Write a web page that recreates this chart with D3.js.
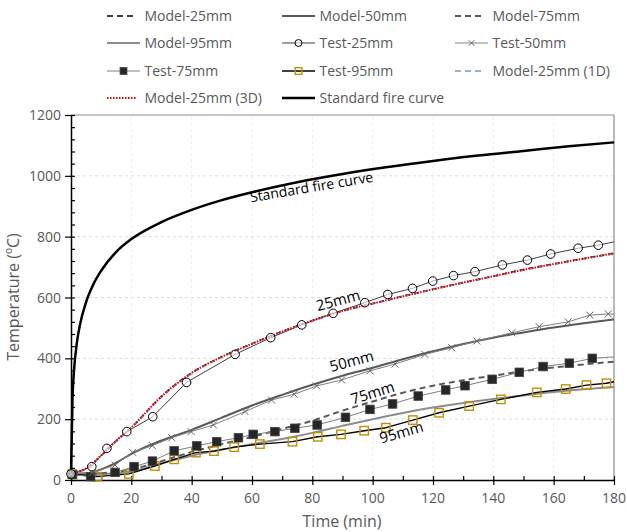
<!DOCTYPE html>
<html>
<head>
<meta charset="utf-8">
<script src="https://cdn.jsdelivr.net/npm/d3@7"></script>
<style>
  body { margin: 0; background: #fff; }
  svg { display: block; font-family: "Open Sans", sans-serif; }
</style>
</head>
<body>
<svg id="chart" width="627" height="532"></svg>
<script>
// ---- data ----
const fireTime = [0, 0.5, 1, 2, 3, 5, 7.5, 10, 15, 20, 30, 40, 50, 60, 75, 90, 105, 120, 135, 150, 165, 180];
const fireTemp = [20, 270, 360, 455, 512, 585, 645, 688, 750, 792, 848, 888, 920, 946, 979, 1006, 1029, 1049, 1067, 1082, 1097, 1110];

const modelTime = [0, 5, 10, 15, 20, 30, 40, 50, 60, 70, 80, 90, 100, 110, 120, 130, 140, 150, 160, 170, 180];
const model25 = [20, 38, 80, 128, 172, 275, 352, 405, 448, 488, 524, 556, 580, 604, 627, 649, 670, 692, 710, 728, 745];
const model25_1D = [20, 37, 79, 127, 171, 273, 350, 404, 447, 487, 523, 555, 579, 603, 626, 648, 669, 690, 709, 727, 744];
const model25_3D = [20, 38, 81, 129, 173, 275, 352, 405, 448, 488, 524, 556, 580, 604, 627, 649, 670, 691, 710, 728, 745];
const model50 = [20, 22, 35, 57, 86, 130, 165, 205, 245, 280, 313, 343, 369, 397, 423, 447, 468, 485, 501, 515, 528];
const model75 = [20, 20, 22, 27, 35, 62, 92, 118, 142, 168, 195, 228, 258, 287, 310, 328, 343, 358, 370, 380, 389];
const model95 = [20, 20, 20, 22, 28, 55, 80, 100, 118, 135, 155, 178, 200, 220, 238, 253, 266, 278, 289, 298, 306];

const test25Time = [0, 6.9, 11.9, 18.5, 27.1, 38.3, 54.4, 66.2, 76.5, 86.9, 97.4, 105, 113.2, 119.9, 126.8, 133.9, 143, 151.3, 159, 168.1, 174.8, 180];
const test25 = [20, 44, 104, 159, 208, 321, 413, 468, 510, 548, 583, 610, 630, 654, 672, 685, 707, 723, 743, 762, 772, 783];
const test50Time = [0, 7, 14.6, 20.4, 27, 33.4, 39.8, 47.2, 57.7, 66.5, 74, 81.4, 89.7, 99.1, 107.4, 117.3, 126.2, 134.5, 146.1, 155.2, 164.8, 172, 178.1, 180];
const test50 = [20, 24, 49, 91, 113, 139, 159, 181, 225, 263, 282, 309, 329, 359, 381, 413, 435, 457, 484, 504, 520, 542, 546, 545];
const test75Time = [0.5, 6.5, 14.6, 20.9, 27, 34.2, 41.7, 48.3, 55.5, 60.4, 67.6, 74.2, 81.6, 91, 99.1, 106.6, 115.1, 124.2, 130.6, 139.6, 148.6, 156.5, 165.2, 172.8, 180];
const test75 = [18, 11, 25, 44, 62, 96, 112, 126, 139, 150, 159, 170, 181, 206, 232, 250, 276, 296, 310, 331, 354, 373, 384, 400, 405];
const test95Time = [0.4, 8.7, 19.2, 27.8, 34.2, 41.4, 47.4, 54.1, 62.6, 73.4, 81.8, 89.5, 97.2, 104.4, 113.3, 122, 132, 142.5, 154.4, 164, 170.9, 177.5, 180];
const test95 = [19, 11, 20, 46, 68, 90, 95, 108, 118, 126, 142, 150, 162, 172, 197, 221, 243, 265, 288, 299, 312, 318, 323];

const xTicks = [0, 20, 40, 60, 80, 100, 120, 140, 160, 180];
const yTicks = [0, 200, 400, 600, 800, 1000, 1200];

const legendNames = ["Model-25mm", "Model-50mm", "Model-75mm", "Model-95mm", "Test-25mm", "Test-50mm",
  "Test-75mm", "Test-95mm", "Model-25mm (1D)", "Model-25mm (3D)", "Standard fire curve"];

// ---- styles ----
const styles = {
  "Model-25mm": { stroke: "#000", width: 1.6, dash: "5,4" },
  "Model-50mm": { stroke: "#595959", width: 2 },
  "Model-75mm": { stroke: "#595959", width: 2, dash: "6,4" },
  "Model-95mm": { stroke: "#8c8c8c", width: 2 },
  "Test-25mm": { stroke: "#404040", width: 1, marker: "circle" },
  "Test-50mm": { stroke: "#808080", width: 1, marker: "cross" },
  "Test-75mm": { stroke: "#808080", width: 1, marker: "square" },
  "Test-95mm": { stroke: "#000", width: 1.4, marker: "osquare" },
  "Model-25mm (1D)": { stroke: "#8497b0", width: 1.6, dash: "5,4" },
  "Model-25mm (3D)": { stroke: "#e00000", width: 2, dash: "1.5,1.5" },
  "Standard fire curve": { stroke: "#000", width: 2.5 }
};

const svg = d3.select("#chart");
const x = d3.scaleLinear().domain([0, 180]).range([71, 614]);
const y = d3.scaleLinear().domain([0, 1200]).range([480, 115]);
const textGray = "#595959";

// gridlines
svg.append("g").selectAll("line").data(yTicks.filter(d => d > 0 && d < 1200)).join("line")
  .attr("x1", x(0)).attr("x2", x(180)).attr("y1", d => y(d)).attr("y2", d => y(d))
  .attr("stroke", "#dcdcdc").attr("stroke-dasharray", "3,3");
svg.append("g").selectAll("line").data(xTicks.filter(d => d > 0 && d < 180)).join("line")
  .attr("x1", d => x(d)).attr("x2", d => x(d)).attr("y1", y(0)).attr("y2", y(1200))
  .attr("stroke", "#ececec").attr("stroke-dasharray", "3,3");

// frame top/right
svg.append("path").attr("d", `M${x(0)},${y(1200)}H${x(180)}V${y(0)}`)
  .attr("fill", "none").attr("stroke", "#8c8c8c").attr("stroke-width", 1.2);

// axes
const xAxis = svg.append("g").attr("transform", `translate(0,${y(0)})`)
  .call(d3.axisBottom(x).tickValues(d3.range(0, 181, 10)).tickSize(4).tickSizeOuter(0).tickFormat(""));
xAxis.selectAll(".tick line").attr("y1", -4).attr("y2", d => d % 20 === 0 ? 5 : 0);
const yAxis = svg.append("g").attr("transform", `translate(${x(0)},0)`)
  .call(d3.axisLeft(y).tickValues(d3.range(0, 1201, 40)).tickSize(4).tickSizeOuter(0).tickFormat(""));
yAxis.selectAll(".tick line").attr("x1", 4).attr("x2", d => d % 200 === 0 ? -6 : 0);
svg.selectAll(".domain").attr("stroke", "#000").attr("stroke-width", 1.5);
svg.selectAll(".tick line").attr("stroke", "#000").attr("stroke-width", 1.2);

svg.append("g").selectAll("text").data(xTicks).join("text")
  .attr("x", d => x(d)).attr("y", 503).attr("text-anchor", "middle")
  .attr("font-size", 14).attr("fill", textGray).text(d => d);
svg.append("g").selectAll("text").data(yTicks).join("text")
  .attr("x", 61).attr("y", d => y(d) + 5).attr("text-anchor", "end")
  .attr("font-size", 14).attr("fill", textGray).text(d => d);

svg.append("text").attr("x", 342).attr("y", 527).attr("text-anchor", "middle")
  .attr("font-size", 16).attr("fill", textGray).text("Time (min)");
const yt = svg.append("text").attr("transform", "translate(19,297) rotate(-90)")
  .attr("text-anchor", "middle").attr("font-size", 16).attr("fill", textGray);
yt.append("tspan").text("Temperature (");
yt.append("tspan").attr("font-size", 10).attr("baseline-shift", "super").text("o");
yt.append("tspan").text("C)");

// ---- series ----
const smooth = d3.line().x(d => x(d[0])).y(d => y(d[1])).curve(d3.curveMonotoneX);
const straight = d3.line().x(d => x(d[0])).y(d => y(d[1]));
const zip = (a, b) => a.map((t, i) => [t, b[i]]);

const plot = svg.append("g");
function drawLine(name, pts, gen) {
  const s = styles[name];
  plot.append("path").attr("d", gen(pts)).attr("fill", "none")
    .attr("stroke", s.stroke).attr("stroke-width", s.width)
    .attr("stroke-dasharray", s.dash || null).attr("stroke-linejoin", "round");
}
function drawMarker(g, type, cx, cy, big) {
  const k = big ? 1 : 0.8;
  if (type === "circle") {
    g.append("circle").attr("cx", cx).attr("cy", cy).attr("r", 4.3 * k)
      .attr("fill", "#fff").attr("fill-opacity", 0.6).attr("stroke", "#000").attr("stroke-width", 1);
  } else if (type === "cross") {
    const r = 3.5 * k;
    g.append("path").attr("d", `M${cx - r},${cy - r}L${cx + r},${cy + r}M${cx - r},${cy + r}L${cx + r},${cy - r}`)
      .attr("stroke", "#666").attr("stroke-width", 1);
  } else if (type === "square") {
    const r = 4.3 * k;
    g.append("rect").attr("x", cx - r).attr("y", cy - r).attr("width", 2 * r).attr("height", 2 * r)
      .attr("fill", "#262626").attr("stroke", "#444").attr("stroke-width", 0.8);
  } else if (type === "osquare") {
    const r = 4.2 * k;
    g.append("rect").attr("x", cx - r).attr("y", cy - r).attr("width", 2 * r).attr("height", 2 * r)
      .attr("fill", "none").attr("stroke", "#bf9000").attr("stroke-width", 1.4);
  }
}

drawLine("Standard fire curve", zip(fireTime, fireTemp), smooth);
drawLine("Model-95mm", zip(modelTime, model95), smooth);
drawLine("Model-75mm", zip(modelTime, model75), smooth);
drawLine("Model-50mm", zip(modelTime, model50), smooth);

const tests = [
  ["Test-95mm", test95Time, test95],
  ["Test-75mm", test75Time, test75],
  ["Test-50mm", test50Time, test50],
  ["Test-25mm", test25Time, test25]
];
tests.forEach(([name, t, v]) => drawLine(name, zip(t, v), straight));

drawLine("Model-25mm", zip(modelTime, model25), smooth);
drawLine("Model-25mm (1D)", zip(modelTime, model25_1D), smooth);
drawLine("Model-25mm (3D)", zip(modelTime, model25_3D), smooth);

const mk = svg.append("g");
tests.forEach(([name, t, v]) => {
  zip(t, v).filter(d => d[0] < 180).forEach(d => drawMarker(mk, styles[name].marker, x(d[0]), y(d[1]), true));
});

// curve labels
const curveLabels = [
  { text: "Standard fire curve", t: 80, v: 947, angle: -9.5, size: 14 },
  { text: "25mm", t: 89, v: 574, angle: -15, size: 15 },
  { text: "50mm", t: 93.5, v: 374, angle: -15, size: 15 },
  { text: "75mm", t: 100.5, v: 270, angle: -17, size: 15 },
  { text: "95mm", t: 110, v: 140, angle: -16, size: 15 }
];
svg.append("g").selectAll("text").data(curveLabels).join("text")
  .attr("transform", d => `translate(${x(d.t)},${y(d.v)}) rotate(${d.angle})`)
  .attr("text-anchor", "middle").attr("font-size", d => d.size).attr("fill", "#000")
  .text(d => d.text);

// ---- legend ----
const colX = [107, 282, 455];
const rowY = [16, 43, 71, 98];
const leg = svg.append("g");
legendNames.forEach((name, i) => {
  const lx = colX[i % 3], ly = rowY[Math.floor(i / 3)];
  const s = styles[name];
  const len = s.marker ? 33 : (s.dash ? 29 : 33);
  leg.append("line").attr("x1", lx).attr("x2", lx + len).attr("y1", ly).attr("y2", ly)
    .attr("stroke", s.stroke).attr("stroke-width", s.width)
    .attr("stroke-dasharray", s.dash ? (name === "Model-25mm (3D)" ? "1.5,1.5" : "6,4") : null);
  if (s.marker) drawMarker(leg, s.marker, lx + 16.5, ly, false);
  leg.append("text").attr("x", lx + 37.5).attr("y", ly + 5)
    .attr("font-size", 14).attr("fill", textGray).text(name);
});
</script>
</body>
</html>
